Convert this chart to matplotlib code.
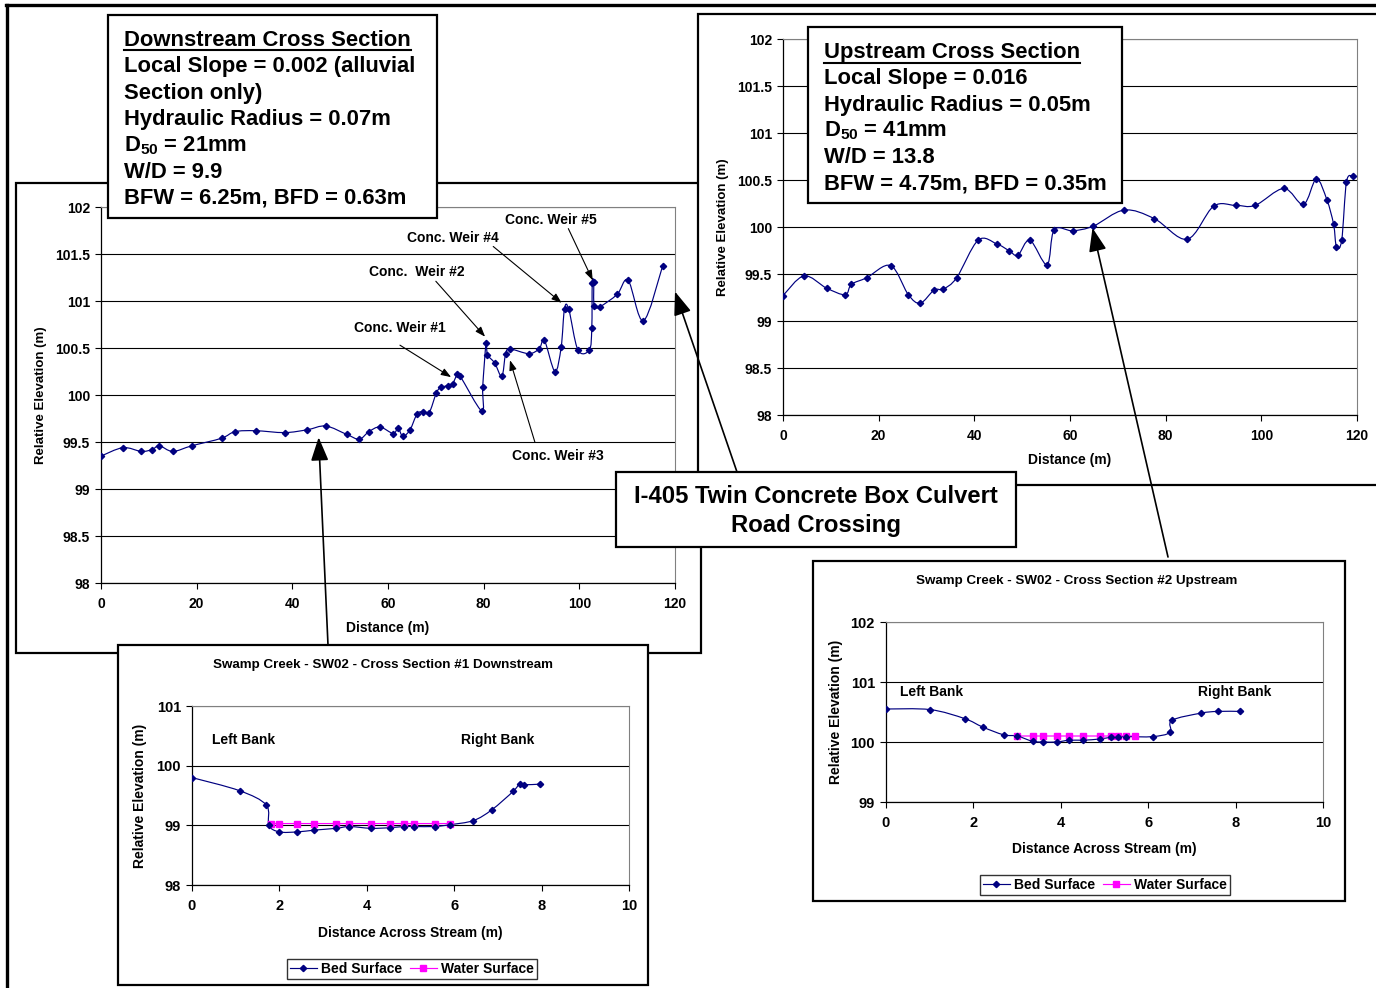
import numpy as np
import matplotlib
matplotlib.use('Agg')
import matplotlib.pyplot as plt
from matplotlib.path import Path
from matplotlib.patches import PathPatch, Rectangle, ConnectionPatch
from matplotlib.lines import Line2D

plt.rcParams['font.family'] = ['Liberation Sans', 'DejaVu Sans']
plt.rcParams['font.weight'] = 'bold'
plt.rcParams['axes.labelweight'] = 'bold'
plt.rcParams['mathtext.fontset'] = 'custom'
for key in ('rm', 'it', 'bf', 'sf'):
    plt.rcParams['mathtext.' + key] = 'Liberation Sans:bold'

# longitudinal profile downstream of the culvert
ds_dist = [0, 4.6, 8.4, 10.7, 12.2, 15.0, 19.0, 25.2, 28.0, 32.3,
           38.4, 43.1, 47.0, 51.4, 54.0, 56.0, 58.3, 61.1, 62.1, 63.1,
           64.6, 66.1, 67.4, 68.6, 70.1, 71.0, 72.6, 73.5, 74.5, 75.1,
           79.6, 79.8, 80.5, 80.8, 82.3, 83.8, 84.6, 85.5, 89.4, 91.6,
           92.7, 94.9, 96.2, 96.9, 97.8, 99.7, 102.1, 102.6, 102.7, 103.0,
           103.1, 104.3, 107.9, 110.2, 113.4, 117.4]
ds_elev = [99.35, 99.44, 99.40, 99.42, 99.46, 99.40, 99.46, 99.54, 99.61, 99.62,
           99.60, 99.63, 99.67, 99.58, 99.53, 99.61, 99.66, 99.59, 99.65, 99.56,
           99.63, 99.80, 99.82, 99.81, 100.02, 100.08, 100.10, 100.12, 100.22, 100.20,
           99.83, 100.09, 100.55, 100.43, 100.34, 100.20, 100.44, 100.49, 100.44, 100.49,
           100.58, 100.25, 100.51, 100.92, 100.91, 100.48, 100.48, 100.71, 101.19, 101.20,
           100.95, 100.94, 101.07, 101.22, 100.79, 101.37]

# longitudinal profile upstream of the culvert
us_dist = [0, 4.4, 9.1, 13.0, 14.3, 17.5, 22.5, 26.2, 28.7, 31.6,
           33.5, 36.3, 40.8, 44.7, 47.2, 49.1, 51.6, 55.2, 56.7, 60.6,
           64.9, 71.3, 77.6, 84.5, 90.0, 94.6, 98.7, 104.7, 108.8, 111.5,
           113.7, 115.1, 115.7, 116.8, 117.8, 119.1]
us_elev = [99.27, 99.48, 99.35, 99.28, 99.39, 99.46, 99.59, 99.28, 99.19, 99.33,
           99.34, 99.46, 99.86, 99.82, 99.75, 99.70, 99.86, 99.60, 99.97, 99.96,
           100.01, 100.18, 100.09, 99.87, 100.22, 100.23, 100.23, 100.41, 100.24, 100.51,
           100.29, 100.03, 99.79, 99.86, 100.48, 100.54]

# cross section #1 (downstream)
xs1_bed_x = [0, 1.09, 1.70, 1.76, 2.0, 2.41, 2.80, 3.30, 3.60, 4.09, 4.52,
             4.85, 5.09, 5.55, 5.90, 6.44, 6.86, 7.35, 7.50, 7.59, 7.96]
xs1_bed_y = [99.80, 99.58, 99.34, 99.00, 98.89, 98.89, 98.92, 98.95, 98.98, 98.95, 98.96,
             98.98, 98.98, 98.98, 99.01, 99.08, 99.26, 99.57, 99.70, 99.68, 99.69]
xs1_wat_x = [1.80, 2.0, 2.41, 2.80, 3.30, 3.60, 4.09, 4.52, 4.85, 5.09, 5.55, 5.90]
xs1_wat_y = [99.03] * len(xs1_wat_x)

# cross section #2 (upstream)
xs2_bed_x = [0, 1.01, 1.80, 2.21, 2.69, 3.0, 3.36, 3.60, 3.91, 4.19, 4.51,
             4.89, 5.15, 5.31, 5.50, 6.10, 6.50, 6.54, 7.20, 7.59, 8.10]
xs2_bed_y = [100.55, 100.54, 100.39, 100.25, 100.12, 100.10, 100.01, 100.0, 100.0, 100.03, 100.03,
             100.05, 100.08, 100.09, 100.09, 100.09, 100.16, 100.36, 100.48, 100.51, 100.51]
xs2_wat_x = [3.0, 3.36, 3.60, 3.91, 4.19, 4.51, 4.89, 5.15, 5.31, 5.50, 5.70]
xs2_wat_y = [100.10] * len(xs2_wat_x)

ds_notes = ['Downstream Cross Section',
            'Local Slope = 0.002 (alluvial',
            'Section only)',
            'Hydraulic Radius = 0.07m',
            r'D$_{50}$ = 21mm',
            'W/D = 9.9',
            'BFW = 6.25m, BFD = 0.63m']
us_notes = ['Upstream Cross Section',
            'Local Slope = 0.016',
            'Hydraulic Radius = 0.05m',
            r'D$_{50}$ = 41mm',
            'W/D = 13.8',
            'BFW = 4.75m, BFD = 0.35m']

BED = '#000080'
WATER = '#FF00FF'
W, H = 1376, 988

fig = plt.figure(figsize=(W / 100, H / 100), dpi=100)


def fx(x):
    return x / W


def fy(y):
    return 1 - y / H


def box(x0, y0, x1, y1, z, lw=1.6):
    r = Rectangle((fx(x0), fy(y1)), (x1 - x0) / W, (y1 - y0) / H,
                  transform=fig.transFigure, facecolor='white',
                  edgecolor='black', lw=lw, zorder=z)
    fig.add_artist(r)
    return r


def px_axes(x0, y0, x1, y1, z):
    ax = fig.add_axes([fx(x0), fy(y1), (x1 - x0) / W, (y1 - y0) / H])
    ax.set_zorder(z)
    return ax


def smooth_path(x, y):
    # cubic bezier through every point, spreadsheet style smoothing
    pts = np.column_stack([x, y]).astype(float)
    n = len(pts)
    verts = [pts[0]]
    codes = [Path.MOVETO]
    for i in range(n - 1):
        p0 = pts[i - 1] if i > 0 else pts[i]
        p1, p2 = pts[i], pts[i + 1]
        p3 = pts[i + 2] if i + 2 < n else pts[i + 1]
        verts += [p1 + (p2 - p0) / 6, p2 - (p3 - p1) / 6, p2]
        codes += [Path.CURVE4] * 3
    return Path(verts, codes)


def series(ax, x, y, color, marker, ms):
    ax.add_patch(PathPatch(smooth_path(x, y), fill=False, edgecolor=color, lw=0.85, zorder=3))
    ax.plot(x, y, linestyle='none', marker=marker, ms=ms, color=color, zorder=4)


def style(ax, xlim, ylim, xticks, yticks, fs, xpad, ypad):
    ax.set_xlim(*xlim)
    ax.set_ylim(*ylim)
    ax.set_xticks(xticks)
    ax.set_yticks(yticks)
    ax.set_yticklabels(['{:g}'.format(v) for v in yticks])
    ax.yaxis.grid(True, color='black', lw=0.8)
    ax.set_axisbelow(True)
    for s in ('top', 'right'):
        ax.spines[s].set_color('#808080')
        ax.spines[s].set_linewidth(0.8)
    for s in ('left', 'bottom'):
        ax.spines[s].set_color('black')
        ax.spines[s].set_linewidth(0.9)
    ax.tick_params(direction='out', length=4, width=0.8, labelsize=fs)
    ax.tick_params(axis='x', pad=xpad)
    ax.tick_params(axis='y', pad=ypad)


# outer frame
fig.add_artist(Line2D([fx(6), fx(1380)], [fy(5), fy(5)], transform=fig.transFigure,
                      color='black', lw=2.4, zorder=0.5))
fig.add_artist(Line2D([fx(7), fx(7)], [fy(5), fy(992)], transform=fig.transFigure,
                      color='black', lw=2.4, zorder=0.5))

# downstream longitudinal profile
box(16, 183, 701, 653, 1)
ax1 = px_axes(101, 207, 675, 583, 2)
style(ax1, (0, 120), (98, 102), range(0, 121, 20), [98 + 0.5 * i for i in range(9)], 10, 6, 4)
series(ax1, ds_dist, ds_elev, BED, 'D', 3.2)
ax1.set_xlabel('Distance (m)', fontsize=10)
ax1.xaxis.set_label_coords(0.5, -0.12)
ax1.xaxis.label.set_va('center')
ax1.set_ylabel('Relative Elevation (m)', fontsize=9.5)
ax1.yaxis.set_label_coords(-0.1045, 0.5)
ax1.yaxis.label.set_va('center')

weirs = [('Conc. Weir #5', (94.1, 101.86), (97.7, 101.77), (102.8, 101.22)),
         ('Conc. Weir #4', (73.6, 101.67), (82.0, 101.58), (96.3, 100.98)),
         ('Conc.  Weir #2', (66.1, 101.31), (70.0, 101.21), (80.3, 100.62)),
         ('Conc. Weir #1', (62.5, 100.71), (62.5, 100.53), (73.2, 100.19)),
         ('Conc. Weir #3', (95.5, 99.35), (90.7, 99.50), (85.5, 100.37))]
for label, tpos, start, tip in weirs:
    ax1.text(*tpos, label, ha='center', va='center', fontsize=10, zorder=6)
    ax1.annotate('', xy=tip, xytext=start, zorder=6,
                 arrowprops=dict(arrowstyle='-|>,head_length=0.6,head_width=0.22',
                                 mutation_scale=10, lw=0.8, color='black',
                                 shrinkA=0, shrinkB=0))

# summary boxes
def notes_box(x0, y0, x1, y1, lines, tx, baselines, z):
    box(x0, y0, x1, y1, z)
    renderer = fig.canvas.get_renderer()
    for i, (s, b) in enumerate(zip(lines, baselines)):
        t = fig.text(fx(tx), fy(b), s, ha='left', va='baseline', fontsize=15.8, zorder=z + 0.1)
        if i == 0:
            ext = t.get_window_extent(renderer)
            fig.add_artist(Line2D([fx(tx), ext.x1 / W], [fy(b + 4.5), fy(b + 4.5)],
                                  transform=fig.transFigure, color='black', lw=1.5, zorder=z + 0.1))


notes_box(108, 15, 437, 218, ds_notes, 124, [45.7, 72.3, 99, 125.3, 151.5, 177.7, 203.5], 3)

# upstream longitudinal profile
box(698, 14, 1380, 485, 4)
ax2 = px_axes(783, 39, 1357, 415, 5)
style(ax2, (0, 120), (98, 102), range(0, 121, 20), [98 + 0.5 * i for i in range(9)], 10, 6, 4)
series(ax2, us_dist, us_elev, BED, 'D', 3.2)
ax2.set_xlabel('Distance (m)', fontsize=10)
ax2.xaxis.set_label_coords(0.5, -0.12)
ax2.xaxis.label.set_va('center')
ax2.set_ylabel('Relative Elevation (m)', fontsize=9.5)
ax2.yaxis.set_label_coords(-0.1045, 0.5)
ax2.yaxis.label.set_va('center')

notes_box(808, 27, 1122, 203, us_notes, 824, [58.3, 84.3, 110.5, 136.7, 163.0, 189.3], 6)


def cross_section(ax, bx, by, wx, wy, ylim, title, tx, lb, rb):
    style(ax, (0, 10), ylim, range(0, 11, 2), list(range(ylim[0], ylim[1] + 1)), 10.5, 6, 4)
    series(ax, wx, wy, WATER, 's', 3.8)
    series(ax, bx, by, BED, 'D', 3.2)
    ax.set_xlabel('Distance Across Stream (m)', fontsize=10)
    ax.xaxis.label.set_va('center')
    ax.set_ylabel('Relative Elevation (m)', fontsize=10)
    ax.yaxis.label.set_va('center')
    ax.text(0.437, tx, title, transform=ax.transAxes, ha='center', va='center', fontsize=9.6)
    ax.text(*lb, 'Left Bank', ha='left', va='center', fontsize=10)
    ax.text(*rb, 'Right Bank', ha='left', va='center', fontsize=10)


handles = [Line2D([], [], color=BED, marker='D', ms=3.2, lw=0.85),
           Line2D([], [], color=WATER, marker='s', ms=3.8, lw=0.85)]


def legend_at(cx, cy, z):
    leg = fig.legend(handles, ['Bed Surface', 'Water Surface'], loc='center',
                     bbox_to_anchor=(fx(cx), fy(cy)), ncol=2, fontsize=10,
                     frameon=True, fancybox=False, handlelength=1.9,
                     handletextpad=0.3, columnspacing=0.6, borderpad=0.25,
                     borderaxespad=0)
    leg.get_frame().set_edgecolor('black')
    leg.get_frame().set_linewidth(1.0)
    leg.set_zorder(z)


# cross section #1
box(118, 645, 648, 985, 7)
ax3 = px_axes(192, 706, 629, 885, 8)
cross_section(ax3, xs1_bed_x, xs1_bed_y, xs1_wat_x, xs1_wat_y, (98, 101),
              'Swamp Creek - SW02 - Cross Section #1 Downstream', 1.229,
              (0.45, 100.43), (6.15, 100.43))
ax3.xaxis.set_label_coords(0.5, -0.268)
ax3.yaxis.set_label_coords(-0.119, 0.5)
legend_at(412, 969, 8.5)

# cross section #2
box(813, 561, 1345, 901, 9)
ax4 = px_axes(886, 622, 1323, 802, 10)
cross_section(ax4, xs2_bed_x, xs2_bed_y, xs2_wat_x, xs2_wat_y, (99, 102),
              'Swamp Creek - SW02 - Cross Section #2 Upstream', 1.228,
              (0.33, 100.83), (7.15, 100.83))
ax4.xaxis.set_label_coords(0.5, -0.261)
ax4.yaxis.set_label_coords(-0.114, 0.5)
legend_at(1105, 885, 10.5)

# culvert label
box(616, 472, 1016, 547, 11)
fig.text(fx(816), fy(496.5), 'I-405 Twin Concrete Box Culvert', ha='center', va='center',
         fontsize=17.2, zorder=11.1)
fig.text(fx(816), fy(525), 'Road Crossing', ha='center', va='center', fontsize=17.2, zorder=11.1)

# connectors between panels
big = dict(arrowstyle='-|>,head_length=0.72,head_width=0.27', mutation_scale=20,
           lw=1.2, color='black', shrinkA=0, shrinkB=0, zorder=12)
links = [((328, 645), ax1, (45.5, 99.55)),
         ((737, 472), ax1, (120, 101.1)),
         ((1168, 557), ax2, (64.7, 99.99))]
for (sx, sy), tax, tip in links:
    con = ConnectionPatch(xyA=(sx, H - sy), coordsA='figure pixels',
                          xyB=tip, coordsB=tax.transData, **big)
    fig.add_artist(con)

fig.savefig('out.png', dpi=100)
